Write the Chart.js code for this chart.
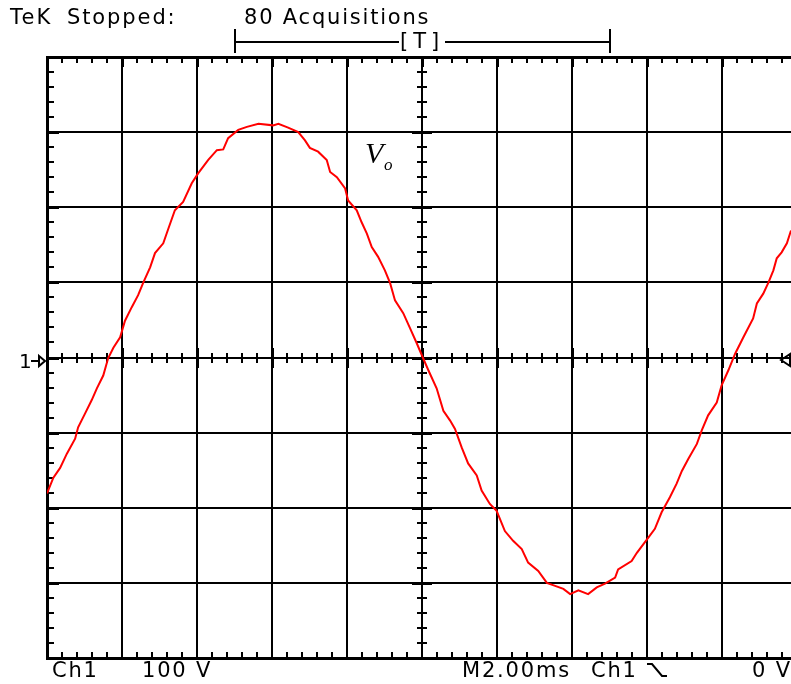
<!DOCTYPE html>
<html>
<head>
<meta charset="utf-8">
<script src="https://cdn.jsdelivr.net/npm/chart.js"></script>
<style>
  html, body { margin: 0; padding: 0; background: #fff; overflow: hidden; }
  #wrap { position: relative; width: 800px; height: 684px; }
  canvas { position: absolute; left: 0; top: 0; }
  .lbl {
    position: absolute; font-family: "DejaVu Sans", sans-serif; font-size: 21px;
    line-height: 21px; letter-spacing: 1.8px; color: #000; white-space: nowrap;
  }
  .vo { position: absolute; font-family: "Liberation Serif", "DejaVu Serif", serif; font-style: italic; color: #000; }
</style>
</head>
<body>
<div id="wrap">
  <canvas id="scope" width="800" height="684"></canvas>
  <div class="lbl" style="left:10px; top:7px; letter-spacing:2.2px;">TeK</div>
  <div class="lbl" style="left:67px; top:7px; letter-spacing:1.9px;">Stopped:</div>
  <div class="lbl" style="left:244px; top:7px;">80 Acquisitions</div>
  <div class="lbl" style="left:400px; top:31px; letter-spacing:5px;">[T]</div>
  <div class="lbl" style="left:19px; top:351px; font-size:20px;">1</div>
  <div class="lbl" style="left:52px; top:660px;">Ch1</div>
  <div class="lbl" style="left:142px; top:660px;">100 V</div>
  <div class="lbl" style="left:462px; top:660px;">M2.00ms</div>
  <div class="lbl" style="left:591px; top:660px;">Ch1</div>
  <div class="lbl" style="left:752px; top:660px;">0 V</div>
  <div class="vo" style="left:365px; top:138px; font-size:30px; line-height:30px;">V</div>
  <div class="vo" style="left:384px; top:156px; font-size:17px; line-height:17px;">o</div>
</div>
<script>
// Ch1 output voltage, one sweep (2 ms/div, 100 V/div)
const timeMs = [0, 0.17, 0.35, 0.53, 0.75, 0.83, 1.01, 1.19, 1.33, 1.50,
  1.63, 1.77, 1.95, 2.08, 2.26, 2.43, 2.57, 2.75, 2.88, 3.10,
  3.24, 3.41, 3.63, 3.86, 4.03, 4.30, 4.53, 4.70, 4.83, 5.10,
  5.33, 5.64, 6.03, 6.17, 6.43, 6.70, 6.88, 7.01, 7.23, 7.46,
  7.55, 7.73, 7.95, 8.03, 8.26, 8.39, 8.53, 8.66, 8.83, 9.01,
  9.15, 9.28, 9.50, 9.68, 9.86, 10.03, 10.17, 10.39, 10.57, 10.75,
  10.88, 11.06, 11.23, 11.46, 11.59, 11.81, 11.99, 12.21, 12.43, 12.66,
  12.83, 13.10, 13.33, 13.55, 13.77, 13.95, 14.17, 14.43, 14.66, 14.88,
  15.15, 15.23, 15.59, 15.73, 16.03, 16.21, 16.39, 16.61, 16.79, 16.93,
  17.10, 17.33, 17.46, 17.63, 17.86, 17.99, 18.17, 18.35, 18.57, 18.83,
  18.93, 19.10, 19.24, 19.37, 19.46, 19.59, 19.73, 19.84];
const voltsV = [-181, -160, -147, -128, -108, -93, -75, -57, -41, -24,
  -1, 13, 27, 49, 67, 83, 100, 120, 139, 152,
  172, 196, 207, 232, 245, 263, 276, 277, 292, 303,
  307, 311, 309, 311, 306, 300, 289, 279, 274, 263,
  247, 240, 225, 209, 196, 180, 165, 147, 134, 116,
  99, 76, 59, 39, 19, -1, -17, -41, -71, -84,
  -95, -120, -141, -157, -177, -195, -204, -231, -244, -255,
  -273, -284, -300, -304, -308, -315, -310, -315, -306, -301,
  -293, -282, -271, -260, -240, -228, -206, -186, -168, -151,
  -135, -115, -97, -77, -60, -37, -17, 5, 27, 52,
  72, 85, 100, 116, 132, 140, 152, 169];

// screen divisions
const xRange = [0, 20], xDiv = 2, xMinor = 0.4;
const yRange = [-400, 400], yDiv = 100, yMinor = 20;
// acquisition window bracket (ms)
const windowMs = [5, 15];

const points = timeMs.map((t, i) => ({ x: t, y: voltsV[i] }));

// graticule ticks, bracket and markers
const graticule = {
  id: "graticule",
  beforeDatasetsDraw(chart) {
    const { ctx, chartArea: a, scales: { x, y } } = chart;
    const cx = Math.round(x.getPixelForValue((xRange[0] + xRange[1]) / 2));
    const cy = Math.round(y.getPixelForValue(0));
    ctx.save();
    ctx.strokeStyle = "#000";
    ctx.lineWidth = 2;
    ctx.beginPath();
    for (let t = xRange[0]; t <= xRange[1] + 1e-6; t += xMinor) {
      const px = Math.round(x.getPixelForValue(t));
      ctx.moveTo(px, a.top); ctx.lineTo(px, a.top + 6);
      ctx.moveTo(px, a.bottom); ctx.lineTo(px, a.bottom - 6);
      ctx.moveTo(px, cy - 5); ctx.lineTo(px, cy + 5);
    }
    for (let v = yRange[0]; v <= yRange[1] + 1e-6; v += yMinor) {
      const py = Math.round(y.getPixelForValue(v));
      ctx.moveTo(a.left, py); ctx.lineTo(a.left + 7, py);
      ctx.moveTo(cx - 5, py); ctx.lineTo(cx + 5, py);
    }
    ctx.stroke();
    // heavier stubs where the divisions meet the border and centre lines
    ctx.lineWidth = 3;
    ctx.beginPath();
    for (let v = yRange[0] + yDiv; v < yRange[1]; v += yDiv) {
      const py = Math.round(y.getPixelForValue(v)) + 0.5;
      ctx.moveTo(a.left, py); ctx.lineTo(a.left + 12, py);
      ctx.moveTo(cx - 10, py); ctx.lineTo(cx + 10, py);
    }
    for (let t = xRange[0] + xDiv; t < xRange[1]; t += xDiv) {
      const px = Math.round(x.getPixelForValue(t)) + 0.5;
      ctx.moveTo(px, a.top); ctx.lineTo(px, a.top + 10);
      ctx.moveTo(px, cy - 10); ctx.lineTo(px, cy + 10);
    }
    ctx.stroke();
    ctx.restore();
  },
  afterDraw(chart) {
    const { ctx, scales: { x, y } } = chart;
    const cy = Math.round(y.getPixelForValue(0));
    const x0 = Math.round(x.getPixelForValue(windowMs[0]));
    const x1 = Math.round(x.getPixelForValue(windowMs[1]));
    ctx.save();
    ctx.strokeStyle = "#000";
    ctx.lineWidth = 2;
    ctx.beginPath();
    // bracket
    ctx.moveTo(x0, 42); ctx.lineTo(399, 42);
    ctx.moveTo(445, 42); ctx.lineTo(x1, 42);
    ctx.moveTo(x0, 29); ctx.lineTo(x0, 53);
    ctx.moveTo(x1, 29); ctx.lineTo(x1, 53);
    // ground marker arrow
    ctx.moveTo(31, cy + 3); ctx.lineTo(40, cy + 3);
    ctx.moveTo(39, cy - 2); ctx.lineTo(45, cy + 3); ctx.lineTo(39, cy + 8); ctx.closePath();
    // trigger level marker
    ctx.moveTo(781, cy + 2); ctx.lineTo(790, cy - 4); ctx.lineTo(790, cy + 8); ctx.closePath();
    // falling edge symbol
    ctx.moveTo(647, 664); ctx.lineTo(652, 664); ctx.lineTo(662, 676); ctx.lineTo(667, 676);
    ctx.stroke();
    ctx.restore();
  }
};

new Chart(document.getElementById("scope").getContext("2d"), {
  type: "line",
  data: {
    datasets: [{
      data: points,
      borderColor: "#ff0000",
      borderWidth: 2,
      pointRadius: 0,
      tension: 0,
      fill: false
    }]
  },
  options: {
    responsive: false,
    devicePixelRatio: 1,
    animation: false,
    events: [],
    layout: { padding: { left: 47, top: 57, right: 3, bottom: 26 } },
    plugins: { legend: { display: false }, tooltip: { enabled: false } },
    scales: {
      x: {
        type: "linear", min: xRange[0], max: xRange[1],
        ticks: { display: false, stepSize: xDiv },
        grid: { color: "#000", lineWidth: 2, drawTicks: false },
        border: { color: "#000", width: 3 }
      },
      y: {
        type: "linear", min: yRange[0], max: yRange[1],
        ticks: { display: false, stepSize: yDiv },
        grid: { color: "#000", lineWidth: c => (c.tick && c.tick.value === yRange[1] ? 3 : 2), drawTicks: false },
        border: { color: "#000", width: 3 }
      }
    }
  },
  plugins: [graticule]
});
</script>
</body>
</html>
